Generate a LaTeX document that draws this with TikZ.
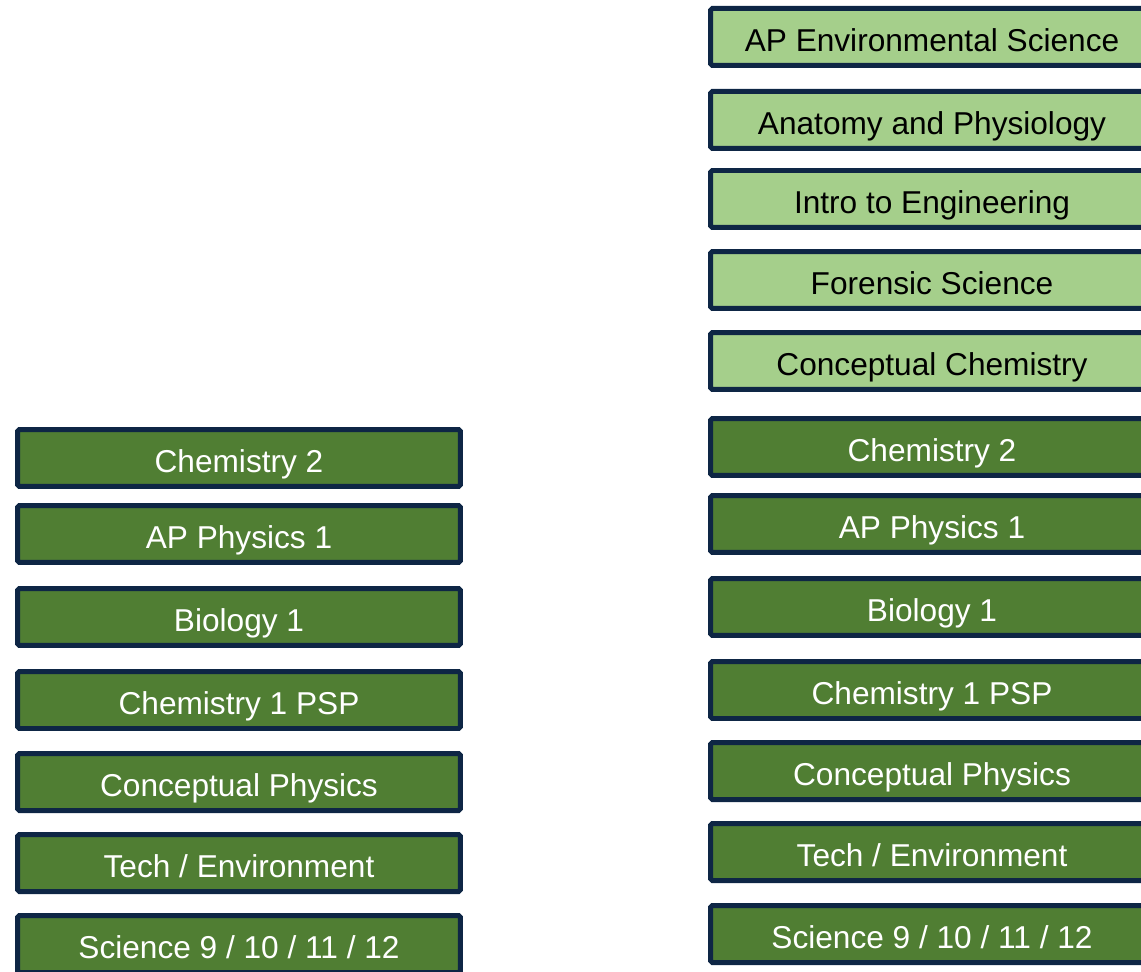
\documentclass[tikz,border=0pt]{standalone}
\usepackage{fontspec}
\setmainfont{Liberation Sans}
\usepackage{xcolor}
\usepackage{tikz}
\usetikzlibrary{positioning}

\definecolor{navy}{HTML}{0E2645}
\definecolor{darkgreen}{HTML}{507E33}
\definecolor{lightgreen}{HTML}{A5CF8B}

\begin{document}
\begin{tikzpicture}[x=0.02cm, y=-0.02cm,
    course/.style={draw=navy, line width=0.1cm, rounded corners=1pt,
        minimum width=8.86cm, minimum height=1.14cm, inner sep=0pt,
        text height=16pt, text depth=0pt,
        font=\fontsize{18}{21}\selectfont},
    core/.style={course, fill=darkgreen, text=white},
    elective/.style={course, fill=lightgreen, text=black}]
    \useasboundingbox (0,0) rectangle (1141,972);
    \clip (0,0) rectangle (1141,972);

    % left column
    \node[core] (LChemTwo) at (239,458) {Chemistry 2};
    \node[core] (LPhysAP) at (239,534) {AP Physics 1};
    \node[core] (LBio) at (239,617) {Biology 1};
    \node[core] (LChemOne) at (239,700) {Chemistry 1 PSP};
    \node[core] (LPhysCon) at (239,782) {Conceptual Physics};
    \node[core] (LTech) at (239,863) {Tech / Environment};
    \node[core] (LSci) at (239,944) {Science 9 / 10 / 11 / 12};

    % right column, electives on top
    \node[elective] (REnv) at (932,37) {AP Environmental Science};
    \node[elective] (RAnat) at (932,120) {Anatomy and Physiology};
    \node[elective] (REng) at (932,199) {Intro to Engineering};
    \node[elective] (RFor) at (932,280) {Forensic Science};
    \node[elective] (RChemCon) at (932,361) {Conceptual Chemistry};
    \node[core] (RChemTwo) at (932,447) {Chemistry 2};
    \node[core] (RPhysAP) at (932,524) {AP Physics 1};
    \node[core] (RBio) at (932,607) {Biology 1};
    \node[core] (RChemOne) at (932,690) {Chemistry 1 PSP};
    \node[core] (RPhysCon) at (932,771) {Conceptual Physics};
    \node[core] (RTech) at (932,852) {Tech / Environment};
    \node[core] (RSci) at (932,934) {Science 9 / 10 / 11 / 12};
\end{tikzpicture}
\end{document}
